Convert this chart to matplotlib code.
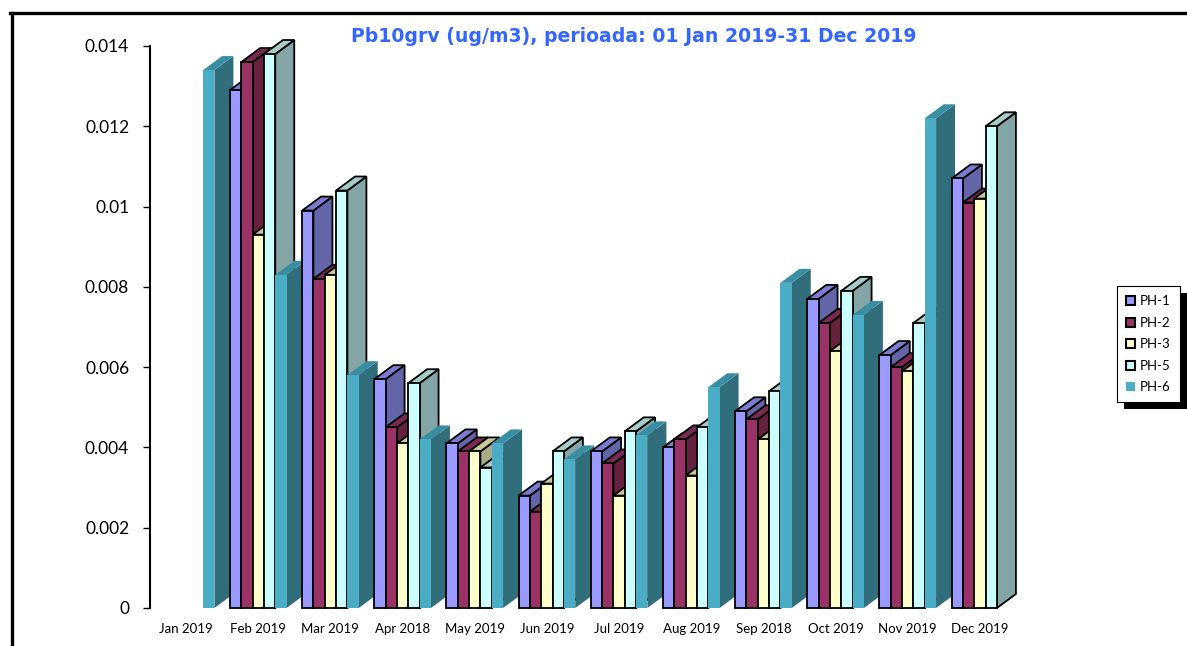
import numpy as np
import matplotlib
matplotlib.use("Agg")
import matplotlib.pyplot as plt
from matplotlib.patches import Polygon, Patch, Rectangle
from matplotlib.lines import Line2D

# data
months = ["Jan 2019", "Feb 2019", "Mar 2019", "Apr 2018", "May 2019", "Jun 2019",
          "Jul 2019", "Aug 2019", "Sep 2018", "Oct 2019", "Nov 2019", "Dec 2019"]
series_names = ["PH-1", "PH-2", "PH-3", "PH-5", "PH-6"]
ph1 = [np.nan, 0.0129, 0.0099, 0.0057, 0.0041, 0.0028, 0.0039, 0.0040, 0.0049, 0.0077, 0.0063, 0.0107]
ph2 = [np.nan, 0.0136, 0.0082, 0.0045, 0.0039, 0.0024, 0.0036, 0.0042, 0.0047, 0.0071, 0.0060, 0.0101]
ph3 = [np.nan, 0.0093, 0.0083, 0.0041, 0.0039, 0.0031, 0.0028, 0.0033, 0.0042, 0.0064, 0.0059, 0.0102]
ph5 = [np.nan, 0.0138, 0.0104, 0.0056, 0.0035, 0.0039, 0.0044, 0.0045, 0.0054, 0.0079, 0.0071, 0.0120]
ph6 = [0.0134, 0.0083, 0.0058, 0.0042, 0.0041, 0.0037, 0.0043, 0.0055, 0.0081, 0.0073, 0.0122, np.nan]
all_series = [ph1, ph2, ph3, ph5, ph6]

# front, top, side colours
front_c = ["#9999FF", "#993366", "#FFFFCC", "#CCFFFF", "#4BACC6"]
top_c = ["#7B7BD0", "#7A2952", "#C8C89A", "#A6CCCA", "#3A8EA4"]
side_c = ["#6464A8", "#66213F", "#AAAA88", "#84A5A5", "#316E7C"]
edged = [True, True, True, True, False]

W, H = 1187, 646
fig = plt.figure(figsize=(W / 100, H / 100), dpi=100)
ax = fig.add_axes([150 / W, 1 - 608 / H, 866 / W, 562 / H])
ax.set_xlim(-0.5, 11.5)
ax.set_ylim(0, 0.014)

bw = 0.157
dx = 19 / 72.17          # depth offset in slot units
dy = 14 / 40.14 * 0.001  # depth offset in value units

x = np.arange(len(months))
for j, vals in enumerate(all_series):
    lefts = x + (j - 2.5) * bw
    ec = "black" if edged[j] else "none"
    bars = ax.bar(lefts, vals, width=bw, align="edge", color=front_c[j],
                  edgecolor=ec, linewidth=1.3)
    for i, (rect, h) in enumerate(zip(bars.patches, vals)):
        if np.isnan(h):
            continue
        z = 10 + i * 20 + j * 3
        rect.set_zorder(z + 2)
        rect.set_clip_on(False)
        x0 = lefts[i]
        side = Polygon([(x0 + bw, 0), (x0 + bw, h), (x0 + bw + dx, h + dy), (x0 + bw + dx, dy)],
                       closed=True, facecolor=side_c[j], edgecolor=ec, linewidth=1.3,
                       zorder=z, clip_on=False, joinstyle="miter")
        top = Polygon([(x0, h), (x0 + bw, h), (x0 + bw + dx, h + dy), (x0 + dx, h + dy)],
                      closed=True, facecolor=top_c[j], edgecolor=ec, linewidth=1.3,
                      zorder=z + 1, clip_on=False, joinstyle="miter")
        ax.add_patch(side)
        ax.add_patch(top)

for s in ["top", "right", "bottom"]:
    ax.spines[s].set_visible(False)
ax.spines["left"].set_linewidth(1.5)
yt = np.arange(0, 0.0141, 0.002)
ax.set_yticks(yt)
ax.set_yticklabels(["0", "0.002", "0.004", "0.006", "0.008", "0.01", "0.012", "0.014"],
                   fontsize=12.5, fontfamily="Lato")
ax.tick_params(axis="y", length=5, width=1, pad=10)
ax.set_xticks(x)
ax.set_xticklabels(months, fontsize=9.5, fontfamily="Lato")
ax.tick_params(axis="x", length=0, pad=11)
ax.patch.set_visible(False)

fig.text(634 / W, 1 - 37 / H, "Pb10grv (ug/m3), perioada: 01 Jan 2019-31 Dec 2019",
         ha="center", va="center", fontsize=13.6, fontweight="bold", color="#3366FF",
         fontfamily="DejaVu Sans")

# outer chart frame (only top and left edges are inside the image)
fig.add_artist(Line2D([11.5 / W, 11.5 / W], [0, 1 - 13 / H], color="black", lw=2.4))
fig.add_artist(Line2D([10 / W, 1], [1 - 13 / H, 1 - 13 / H], color="black", lw=2.4))

handles = [Patch(facecolor=front_c[j], edgecolor="black" if edged[j] else "none",
                 linewidth=1.5) for j in range(5)]
leg = fig.legend(handles, series_names, loc="upper left",
                 bbox_to_anchor=(1117 / W, 1 - 286 / H), prop={"family": "Lato", "size": 9.5},
                 frameon=True, fancybox=False, edgecolor="black", framealpha=1,
                 handlelength=0.7, handleheight=0.7, handletextpad=0.35,
                 labelspacing=0.72, borderpad=0.7, borderaxespad=0)
leg.get_frame().set_linewidth(0.8)
leg.set_zorder(20)

fig.canvas.draw()
bb = leg.get_window_extent()
shadow = Rectangle((bb.x0 + 7, bb.y0 - 7), bb.width, bb.height, transform=None,
                   facecolor="black", edgecolor="none", zorder=19)
fig.add_artist(shadow)

fig.savefig("out.png", dpi=100)
